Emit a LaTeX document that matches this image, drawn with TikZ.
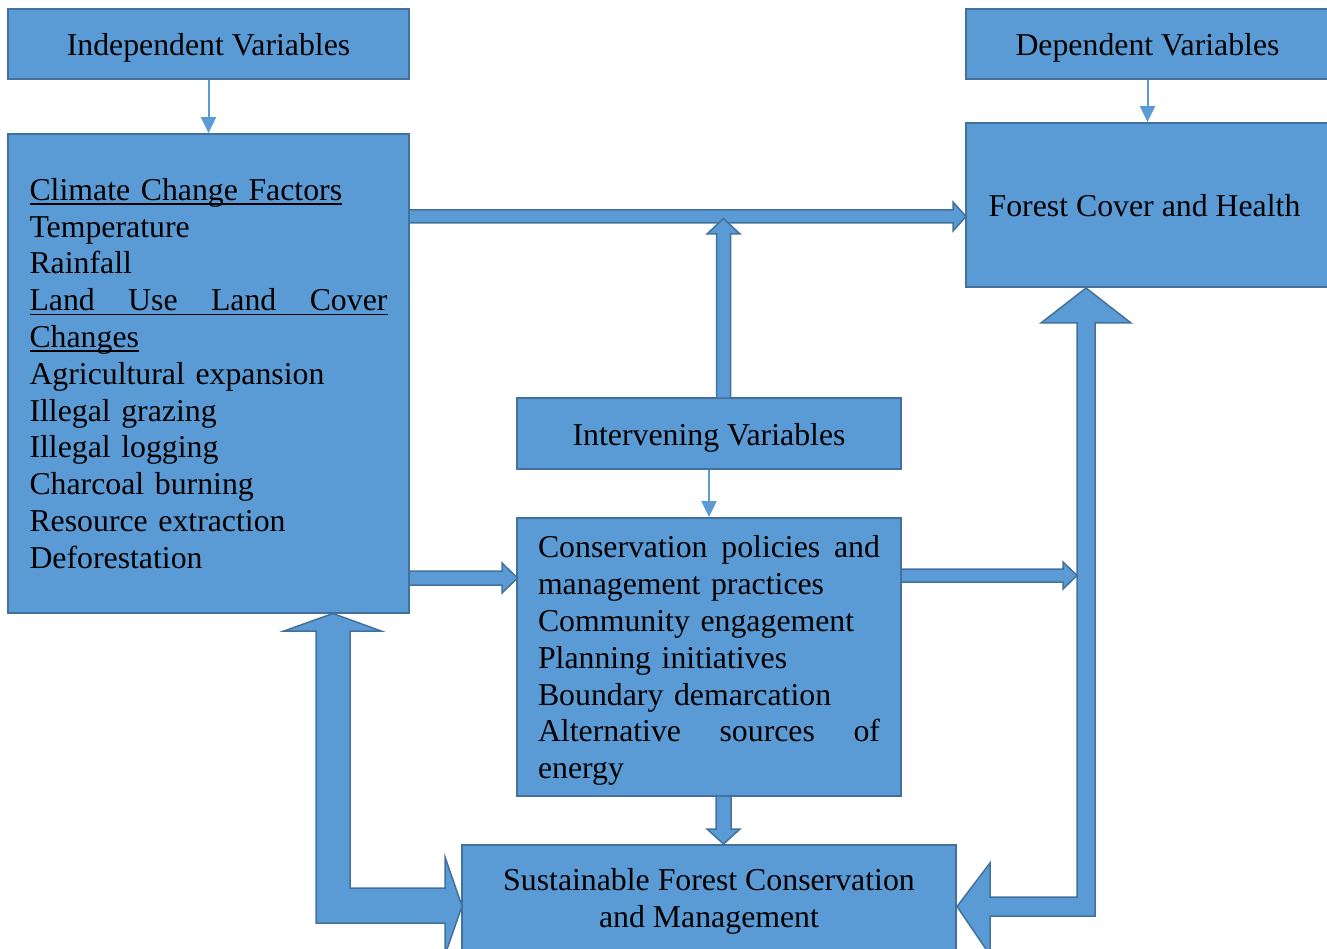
\documentclass[tikz,border=0pt]{standalone}
\usepackage{fontspec}
\setmainfont{Liberation Serif}
\usetikzlibrary{arrows.meta}
\definecolor{boxfill}{HTML}{5B9BD5}
\definecolor{boxline}{HTML}{41719C}
\newsavebox\myulbox
\newcommand{\myul}[1]{\sbox\myulbox{#1}\mbox{\rlap{\raisebox{-4.5pt}{\rule{\wd\myulbox}{1.6pt}}}\usebox\myulbox}}
\begin{document}
\begin{tikzpicture}[x=1pt,y=-1pt,
 box/.style={draw=boxline, fill=boxfill, line width=1.8pt, inner sep=0pt, font=\fontsize{31.8}{36.8}\selectfont},
 onebox/.style={box, text depth=0pt},
 thinarrow/.style={draw=boxfill, line width=2pt, -{Triangle[length=16pt,width=15pt]}},
 blockarrow/.style={draw=boxline, fill=boxfill, line width=1.5pt, line join=miter}]
\useasboundingbox (0,0) rectangle (1327,949);
\clip (0,0) rectangle (1327,949);
% boxes
\node[onebox, minimum width=401pt, minimum height=70pt] (indep) at (208.5,44) {Independent Variables};
\node[box, minimum width=401pt, minimum height=479pt, text width=358pt, align=left] (clim) at (208.5,373.5)
 {\myul{Climate Change Factors}\\
  Temperature\\
  Rainfall\\
  \myul{\makebox[358pt][l]{Land\hfill Use\hfill Land\hfill Cover}}\\
  \myul{Changes}\\
  Agricultural expansion\\
  Illegal grazing\\
  Illegal logging\\
  Charcoal burning\\
  Resource extraction\\
  Deforestation};
\node[onebox, minimum width=363pt, minimum height=70pt] (dep) at (1147.5,44) {Dependent Variables};
\node[onebox, minimum width=363pt, minimum height=164pt] (forest) at (1147.5,205) {\hspace*{-6pt}Forest Cover and Health};
\node[onebox, minimum width=384pt, minimum height=71pt] (interv) at (709,433.5) {\raisebox{-2.5pt}{Intervening Variables}};
\node[box, minimum width=384pt, minimum height=278pt, text width=342pt, align=left, text height=29.6pt] (cons) at (709,657)
 {\makebox[342pt][l]{Conservation\hfill policies\hfill and}\\
  management practices\\
  Community engagement\\
  Planning initiatives\\
  Boundary demarcation\\
  \makebox[342pt][l]{Alternative\hfill sources\hfill of}\\
  energy};
\node[box, minimum width=494pt, minimum height=113pt, align=center] (sust) at (709,901.5)
 {Sustainable Forest Conservation\\ and Management};
% thin arrows
\draw[thinarrow] (indep) -- (clim);
\draw[thinarrow] (dep) -- (forest);
\draw[thinarrow] (interv) -- (cons);
% block arrows
\draw[blockarrow] (409,210) -- (953,210) -- (953,202) -- (966,216.5) -- (953,231) -- (953,223) -- (409,223) -- cycle;
\draw[blockarrow] (716.5,398) -- (716.5,234) -- (707,234) -- (723.5,218.5) -- (740,234) -- (730.5,234) -- (730.5,398) -- cycle;
\draw[blockarrow] (409,571) -- (502,571) -- (502,563) -- (517.5,578) -- (502,593) -- (502,585) -- (409,585) -- cycle;
\draw[blockarrow] (901,569) -- (1063,569) -- (1063,562) -- (1077,575.5) -- (1063,589) -- (1063,582) -- (901,582) -- cycle;
\draw[blockarrow] (716,796) -- (716,829) -- (707,829) -- (723.5,844) -- (740,829) -- (731,829) -- (731,796) -- cycle;
\draw[blockarrow] (333,613.5) -- (381,631) -- (350,631) -- (350,888) -- (445,888) -- (445,857) -- (462,906) -- (445,955) -- (445,923) -- (316,923) -- (316,631) -- (284,631) -- cycle;
\draw[blockarrow] (1086,288) -- (1131,323) -- (1095,323) -- (1095,916) -- (990,916) -- (990,955) -- (957,906.5) -- (990,863) -- (990,897) -- (1077,897) -- (1077,323) -- (1041,323) -- cycle;
\end{tikzpicture}
\end{document}
